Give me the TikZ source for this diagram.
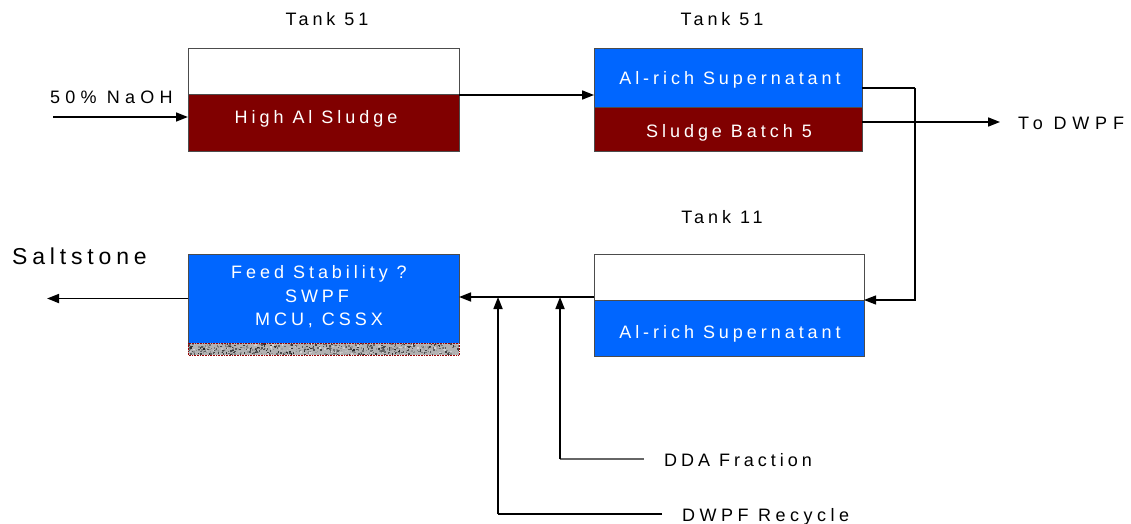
\documentclass[tikz,border=0pt]{standalone}
\usepackage{fontspec}
\setmainfont{Liberation Sans}[LetterSpace=22]
\usetikzlibrary{arrows.meta}
\definecolor{tblue}{RGB}{0,102,255}
\definecolor{tred}{RGB}{128,0,0}
\begin{document}
\begin{tikzpicture}[x=1pt,y=-1pt,
  lbl/.style={font=\fontsize{18}{21}\selectfont, inner sep=0pt, anchor=base},
  wlbl/.style={lbl, text=white},
  wide/.style={font=\fontsize{18}{21}\selectfont\addfontfeature{LetterSpace=29}},
  part/.style={draw=black!70, line width=1pt, anchor=north west, inner sep=0pt, outer sep=0pt},
  tip/.style={-{Triangle[length=12pt,width=9pt]}},
  arr/.style={line width=1.7pt, tip},
  thinline/.style={line width=1.2pt}]
\useasboundingbox (0,0) rectangle (1131,524);
% Tank 51 (left)
\node[part, fill=white, minimum width=271pt, minimum height=46pt] (t1top) at (188,49) {};
\node[part, fill=tred, minimum width=271pt, minimum height=56pt] (t1bot) at (188,95) {};
\node[wlbl] (t1txt) at (316,124) {High Al Sludge};
\node[lbl] (t1lab) at (327,26) {Tank 51};
% Tank 51 (right)
\node[part, fill=tblue, minimum width=268pt, minimum height=59pt] (t2top) at (594,49) {};
\node[part, fill=tred, minimum width=268pt, minimum height=43pt] (t2bot) at (594,108) {};
\node[wlbl] (t2txta) at (730,85) {Al-rich Supernatant};
\node[wlbl] (t2txtb) at (729,137) {Sludge Batch 5};
\node[lbl] (t2lab) at (722,26) {Tank 51};
% Tank 11
\node[part, fill=white, minimum width=270pt, minimum height=46pt] (t11top) at (594,254) {};
\node[part, fill=tblue, minimum width=270pt, minimum height=56pt] (t11bot) at (594,300) {};
\node[wlbl] (t11txt) at (730,338) {Al-rich Supernatant};
\node[lbl] (t11lab) at (722,223) {Tank 11};
% Processing box
\node[part, fill=tblue, minimum width=271pt, minimum height=89pt] (box3) at (188,254) {};
\node[wlbl] (b3a) at (319,278) {Feed Stability ?};
\node[wlbl] (b3b) at (317,302) {SWPF};
\node[wlbl] (b3c) at (319,325) {MCU, CSSX};
\begin{scope}
\fill[gray!60] (188,343) rectangle (459,355);
\pgfmathsetseed{7}
\foreach \i in {1,...,700}{
  \pgfmathsetmacro{\px}{188+270*rnd}
  \pgfmathsetmacro{\py}{343+11*rnd}
  \pgfmathsetmacro{\sh}{15+70*rnd}
  \fill[black!\sh] (\px,\py) rectangle ++(1.5,1.5);
}
\draw[red!60!black, densely dotted, line width=0.6pt] (188,343) rectangle (459,355);
\end{scope}
% labels
\node[lbl, wide, anchor=base west] (naohlab) at (50,103) {50\% NaOH};
\node[lbl, anchor=base west, font=\fontsize{18}{21}\selectfont\addfontfeature{LetterSpace=32}] (dwpflab) at (1018,129) {To DWPF};
\node[inner sep=0pt, anchor=base west, font=\fontsize{23}{26}\selectfont\addfontfeature{LetterSpace=21}] (saltlab) at (12,264) {Saltstone};
\node[lbl, anchor=base west] (ddalab) at (664,466) {DDA Fraction};
\node[lbl, anchor=base west, font=\fontsize{18}{21}\selectfont\addfontfeature{LetterSpace=25}] (reclab) at (682,521) {DWPF Recycle};
% coordinates
\coordinate (naoh) at (53,117);
\coordinate (bend) at (915,88);
\coordinate (todwpf) at (1000,122);
\coordinate (mid) at (594,297);
\coordinate (salt) at (47,298.5);
\coordinate (j1) at (560,297);
\coordinate (j2) at (498,297);
\coordinate (dda) at (644,459);
\coordinate (rec) at (662,514);
% connectors
\draw[arr] (naoh) -- (naoh -| t1bot.west);
\draw[arr] (t1bot.north east) -- (t1bot.north east -| t2top.west);
\draw[thinline] (bend -| t2top.east) -- (bend);
\draw[thinline, tip] (bend) |- (t11bot.north east);
\draw[arr] (todwpf -| t2bot.east) -- (todwpf);
\draw[arr] (mid) -- (mid -| box3.east);
\draw[arr] (box3.west) -- (salt);
\draw[line width=1.2pt, black!60] (dda) -- (dda -| j1);
\draw[arr] (dda -| j1) -- (j1);
\draw[line width=1.2pt] (rec) -- (rec -| j2);
\draw[arr] (rec -| j2) -- (j2);
\end{tikzpicture}
\end{document}
